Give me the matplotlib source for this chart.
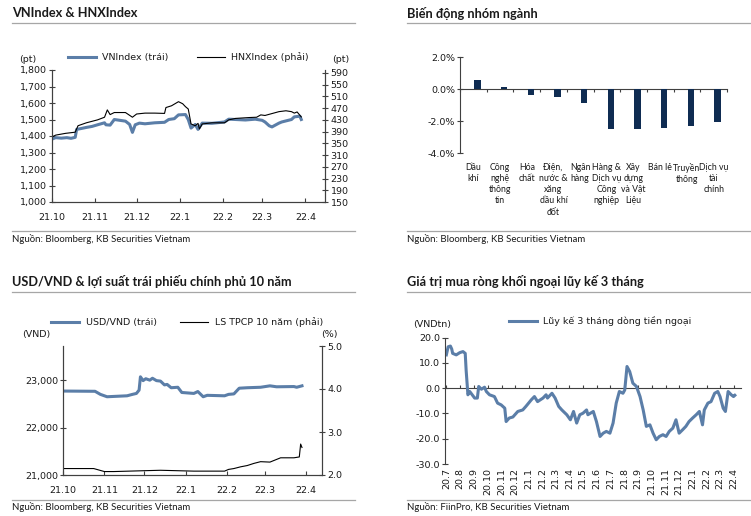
import matplotlib
matplotlib.use('Agg')
import matplotlib.pyplot as plt
import matplotlib.dates as mdates
import pandas as pd
from matplotlib.lines import Line2D

plt.rcParams['font.family'] = ['DejaVu Sans']
plt.rcParams['axes.unicode_minus'] = False

# ---------------- data ----------------
# Panel 1: VNIndex & HNXIndex
vn_dates = ['2021-10-01', '2021-10-04', '2021-10-08', '2021-10-12', '2021-10-15', '2021-10-18',
            '2021-10-19', '2021-10-22', '2021-10-26', '2021-10-30', '2021-11-03', '2021-11-08',
            '2021-11-09', '2021-11-12', '2021-11-15', '2021-11-19', '2021-11-23', '2021-11-26',
            '2021-11-28', '2021-11-30', '2021-12-03', '2021-12-07', '2021-12-14', '2021-12-21',
            '2021-12-24', '2021-12-28', '2021-12-31', '2022-01-05', '2022-01-07', '2022-01-09',
            '2022-01-12', '2022-01-14', '2022-01-17', '2022-01-24', '2022-02-02', '2022-02-05',
            '2022-02-10', '2022-02-17', '2022-02-24', '2022-03-01', '2022-03-03', '2022-03-06',
            '2022-03-08', '2022-03-13', '2022-03-15', '2022-03-22', '2022-03-24', '2022-03-28',
            '2022-03-29']
vn_values = [1380, 1390, 1387, 1390, 1386, 1392, 1440, 1445, 1452, 1458, 1468, 1480,
             1468, 1466, 1500, 1495, 1490, 1470, 1422, 1468, 1478, 1474, 1480, 1483,
             1500, 1505, 1528, 1530, 1500, 1448, 1470, 1440, 1478, 1477, 1485, 1502,
             1500, 1497, 1502, 1495, 1485, 1462, 1455, 1478, 1485, 1500, 1516, 1520,
             1500]
hnx_dates = ['2021-10-01', '2021-10-04', '2021-10-11', '2021-10-18', '2021-10-20', '2021-10-26',
             '2021-11-03', '2021-11-08', '2021-11-10', '2021-11-12', '2021-11-15', '2021-11-23',
             '2021-11-28', '2021-12-01', '2021-12-07', '2021-12-14', '2021-12-21', '2021-12-22',
             '2021-12-26', '2021-12-31', '2022-01-03', '2022-01-05', '2022-01-07', '2022-01-09',
             '2022-01-12', '2022-01-14', '2022-01-15', '2022-01-17', '2022-01-24', '2022-02-02',
             '2022-02-05', '2022-02-10', '2022-02-20', '2022-02-25', '2022-02-28', '2022-03-03',
             '2022-03-13', '2022-03-18', '2022-03-22', '2022-03-24', '2022-03-26', '2022-03-29']
hnx_values = [371, 378, 384, 388, 410, 420, 430, 439, 464, 448, 455, 455,
              439, 450, 453, 453, 452, 472, 478, 492, 485, 475, 467, 416,
              410, 418, 399, 416, 420, 420, 430, 435, 438, 439, 447, 445,
              458, 461, 458, 453, 457, 440]

# Panel 2: sector performance
sectors = ['Dầu\nkhí', 'Công\nnghệ\nthông\ntin', 'Hóa\nchất', 'Điện,\nnước &\nxăng\ndầu khí\nđốt',
           'Ngân\nhàng', 'Hàng &\nDịch vụ\nCông\nnghiệp', 'Xây\ndựng\nvà Vật\nLiệu', 'Bán lẻ',
           'Truyền\nthông', 'Dịch vụ\ntài\nchính']
sector_change = [0.58, 0.14, -0.37, -0.52, -0.90, -2.52, -2.50, -2.44, -2.33, -2.06]

# Panel 3: USD/VND & 10Y government bond yield
fx_dates = ['2021-10-01', '2021-10-25', '2021-10-29', '2021-11-03', '2021-11-18', '2021-11-22',
            '2021-11-25', '2021-11-27', '2021-11-28', '2021-11-30', '2021-12-02', '2021-12-05',
            '2021-12-07', '2021-12-10', '2021-12-13', '2021-12-16', '2021-12-18', '2021-12-21',
            '2021-12-26', '2021-12-29', '2022-01-07', '2022-01-10', '2022-01-14', '2022-01-17',
            '2022-01-30', '2022-02-02', '2022-02-06', '2022-02-10', '2022-02-16', '2022-02-26',
            '2022-03-05', '2022-03-10', '2022-03-23', '2022-03-25', '2022-03-29']
fx_values = [22770, 22765, 22700, 22650, 22670, 22700, 22720, 22790, 23070, 22990, 23030, 23000,
             23040, 22990, 22980, 22900, 22910, 22840, 22850, 22740, 22720, 22760, 22650, 22680,
             22670, 22700, 22710, 22830, 22840, 22850, 22880, 22860, 22865, 22850, 22880]
yld_dates = ['2021-10-01', '2021-10-24', '2021-11-01', '2021-11-08', '2021-12-01', '2021-12-13',
             '2022-01-07', '2022-01-30', '2022-02-02', '2022-02-06', '2022-02-11', '2022-02-16',
             '2022-02-21', '2022-02-26', '2022-03-05', '2022-03-13', '2022-03-23', '2022-03-27',
             '2022-03-28', '2022-03-29']
yld_values = [2.15, 2.15, 2.08, 2.08, 2.10, 2.11, 2.09, 2.09, 2.13, 2.15, 2.19, 2.22,
              2.27, 2.31, 2.30, 2.40, 2.40, 2.42, 2.72, 2.64]

# Panel 4: 3-month cumulative foreign net buying
flow_dates = ['2020-07-01', '2020-07-05', '2020-07-10', '2020-07-13', '2020-07-15', '2020-07-23',
              '2020-07-31', '2020-08-07', '2020-08-12', '2020-08-14', '2020-08-18', '2020-08-22',
              '2020-08-25', '2020-09-02', '2020-09-08', '2020-09-11', '2020-09-17', '2020-09-24',
              '2020-09-28', '2020-10-05', '2020-10-16', '2020-10-23', '2020-10-31', '2020-11-08',
              '2020-11-11', '2020-11-18', '2020-11-26', '2020-12-07', '2020-12-18', '2020-12-25',
              '2021-01-06', '2021-01-13', '2021-01-20', '2021-02-01', '2021-02-08', '2021-02-11',
              '2021-02-21', '2021-02-28', '2021-03-08', '2021-03-15', '2021-03-26', '2021-04-03',
              '2021-04-10', '2021-04-17', '2021-04-24', '2021-05-01', '2021-05-09', '2021-05-12',
              '2021-05-24', '2021-05-31', '2021-06-08', '2021-06-15', '2021-06-22', '2021-06-30',
              '2021-07-07', '2021-07-14', '2021-07-21', '2021-07-29', '2021-08-02', '2021-08-07',
              '2021-08-13', '2021-08-20', '2021-08-28', '2021-09-05', '2021-09-12', '2021-09-19',
              '2021-09-27', '2021-10-04', '2021-10-11', '2021-10-18', '2021-10-26', '2021-11-02',
              '2021-11-09', '2021-11-17', '2021-11-24', '2021-12-01', '2021-12-09', '2021-12-16',
              '2021-12-23', '2021-12-31', '2022-01-08', '2022-01-15', '2022-01-22', '2022-01-26',
              '2022-02-03', '2022-02-10', '2022-02-18', '2022-02-25', '2022-03-02', '2022-03-09',
              '2022-03-14', '2022-03-20', '2022-03-27', '2022-04-01', '2022-04-04']
flow_values = [13.2, 16.4, 16.7, 15.5, 13.8, 13.2, 14.1, 14.5, 13.8, 7.2, -2.6, -1.3,
               -2.0, -3.9, -3.9, 0.7, -0.4, 0.4, -1.3, -2.6, -3.3, -5.9, -6.6, -7.9,
               -13.2, -11.8, -11.4, -9.2, -8.6, -7.2, -4.6, -3.3, -5.3, -3.9, -2.6, -3.9,
               -2.0, -3.9, -7.2, -8.6, -10.5, -12.5, -9.2, -13.8, -10.5, -9.9, -8.6, -10.5,
               -9.2, -13.2, -19.1, -17.8, -17.1, -17.8, -13.8, -5.9, -1.3, -2.0, -0.7, 8.6,
               6.6, 2.0, 0.7, -3.3, -8.6, -15.1, -14.5, -17.8, -20.4, -19.1, -18.4, -19.1,
               -17.1, -15.8, -12.5, -17.8, -16.4, -15.1, -13.2, -11.8, -10.5, -9.2, -14.5, -8.6,
               -5.9, -5.3, -2.0, -1.3, -3.3, -7.9, -9.2, -1.3, -2.6, -3.3, -2.8]

m6_ticks = ['2021-10-01', '2021-11-01', '2021-12-01', '2022-01-01', '2022-02-01', '2022-03-01', '2022-04-01']
m6_labels = ['21.10', '21.11', '21.12', '22.1', '22.2', '22.3', '22.4']
m22_ticks = [f'{y}-{m:02d}-01' for y, m in
             [(2020, 7), (2020, 8), (2020, 9), (2020, 10), (2020, 11), (2020, 12)] +
             [(2021, k) for k in range(1, 13)] + [(2022, k) for k in range(1, 5)]]
m22_labels = ['20.7', '20.8', '20.9', '20.10', '20.11', '20.12', '21.1', '21.2', '21.3', '21.4',
              '21.5', '21.6', '21.7', '21.8', '21.9', '21.10', '21.11', '21.12', '22.1', '22.2',
              '22.3', '22.4']

# ---------------- style ----------------
W, H = 751, 516
TXT = '#1a1a1a'
BLUE = '#5b7ea8'
NAVY = '#0f2c52'
AXC = '#404040'
RULE = '#a6a6a6'
TFONT = ['Lato', 'DejaVu Sans']
TICK = 6.8

fig = plt.figure(figsize=(W / 100, H / 100), dpi=100)


def rect(x0, y0, x1, y1):
    return [x0 / W, 1 - y1 / H, (x1 - x0) / W, (y1 - y0) / H]


def fx(x):
    return x / W


def fy(y):
    return 1 - y / H


def rule(x0, x1, y):
    fig.add_artist(Line2D([fx(x0), fx(x1)], [fy(y), fy(y)], color=RULE, lw=0.9,
                          transform=fig.transFigure))


def title(x, y, s):
    fig.text(fx(x), fy(y), s, family=TFONT, fontweight='bold', fontsize=9.2, color=TXT,
             ha='left', va='center')


def footer(x, y, s):
    fig.text(fx(x), fy(y), s, family=TFONT, fontsize=6.9, color=TXT, ha='left', va='center')


def unit(x, y, s):
    fig.text(fx(x), fy(y), s, fontsize=TICK, color=TXT, ha='center', va='center')


def style_axis(ax):
    for s in ax.spines.values():
        s.set_color(AXC)
        s.set_linewidth(0.8)
    ax.tick_params(colors=AXC, labelcolor=TXT, labelsize=TICK, width=0.8)


def to_dt(lst):
    return pd.to_datetime(lst)


# ---------------- frame texts ----------------
title(12, 13, 'VNIndex & HNXIndex')
title(407, 13, 'Biến động nhóm ngành')
title(12, 281, 'USD/VND & lợi suất trái phiếu chính phủ 10 năm')
title(407, 281, 'Giá trị mua ròng khối ngoại lũy kế 3 tháng')
rule(12, 355, 23)
rule(407, 750, 23)
rule(12, 355, 291.5)
rule(407, 750, 291.5)
rule(12, 355, 231)
rule(407, 750, 231)
rule(12, 355, 499.5)
rule(407, 750, 500)
footer(12, 239, 'Nguồn: Bloomberg, KB Securities Vietnam')
footer(407, 239, 'Nguồn: Bloomberg, KB Securities Vietnam')
footer(12, 507, 'Nguồn: Bloomberg, KB Securities Vietnam')
footer(407, 507, 'Nguồn: FiinPro, KB Securities Vietnam')

# ---------------- panel 1 ----------------
ax1 = fig.add_axes(rect(51.5, 70, 325, 202))
ax1r = ax1.twinx()
l1, = ax1.plot(to_dt(vn_dates), vn_values, color=BLUE, lw=2.2, label='VNIndex (trái)')
l2, = ax1r.plot(to_dt(hnx_dates), hnx_values, color='black', lw=0.8, label='HNXIndex (phải)')
ax1.set_xlim(pd.Timestamp('2021-10-01'), pd.Timestamp('2022-04-15'))
ax1.set_ylim(1000, 1800)
ax1r.set_ylim(150, 600)
ax1.set_yticks(range(1000, 1801, 100))
ax1.set_yticklabels([f'{v:,}' for v in range(1000, 1801, 100)])
ax1r.set_yticks(range(150, 591, 40))
ax1.set_xticks(to_dt(m6_ticks))
ax1.set_xticklabels(m6_labels)
for a in (ax1, ax1r):
    style_axis(a)
    a.spines['top'].set_visible(False)
ax1.tick_params(axis='y', direction='inout', length=4, pad=1.5)
ax1r.tick_params(axis='y', direction='inout', length=4, pad=2)
ax1.tick_params(axis='x', direction='in', length=3, pad=8)
ax1.legend(handles=[l1, l2], ncol=2, frameon=False, fontsize=TICK, loc='center',
           bbox_to_anchor=(fx(188), fy(57)), bbox_transform=fig.transFigure,
           handlelength=3.0, handletextpad=0.6, columnspacing=3.0, borderpad=0,
           labelcolor=TXT)
unit(27.5, 60, '(pt)')
unit(341, 60, '(pt)')

# ---------------- panel 2 ----------------
ax2 = fig.add_axes(rect(460, 57, 727, 153))
pos = [i + 0.5 for i in range(len(sectors))]
ax2.bar([p + 0.15 for p in pos], sector_change, width=0.24, color=NAVY)
ax2.set_xlim(0, len(sectors))
ax2.set_ylim(-4, 2)
ax2.set_yticks([-4, -2, 0, 2])
ax2.set_yticklabels([f'{v:.1f}%' for v in [-4, -2, 0, 2]])
style_axis(ax2)
for s in ('top', 'right', 'bottom'):
    ax2.spines[s].set_visible(False)
ax2.tick_params(axis='y', direction='inout', length=4, pad=1.5)
ax2.set_xticks(pos)
ax2.set_xticklabels(sectors, fontsize=6.3, linespacing=1.32, family=TFONT)
ax2.tick_params(axis='x', length=0, pad=7)
sec2 = ax2.secondary_xaxis(4 / 6)
sec2.set_xticks(range(0, len(sectors) + 1))
sec2.tick_params(axis='x', direction='in', length=2.5, labeltop=False, labelbottom=False,
                 colors=AXC, width=0.8)
for s in sec2.spines.values():
    s.set_color(AXC)
    s.set_linewidth(0.8)

# ---------------- panel 3 ----------------
ax3 = fig.add_axes(rect(63, 346, 322, 475))
ax3r = ax3.twinx()
l3, = ax3.plot(to_dt(fx_dates), fx_values, color=BLUE, lw=2.2, label='USD/VND (trái)')
l4, = ax3r.plot(to_dt(yld_dates), yld_values, color='black', lw=0.8, label='LS TPCP 10 năm (phải)')
ax3.set_xlim(pd.Timestamp('2021-10-01'), pd.Timestamp('2022-04-13'))
ax3.set_ylim(21000, 23720)
ax3r.set_ylim(2.0, 5.0)
ax3.set_yticks([21000, 22000, 23000])
ax3.set_yticklabels([f'{v:,}' for v in [21000, 22000, 23000]])
ax3r.set_yticks([2, 3, 4, 5])
ax3r.set_yticklabels([f'{v:.1f}' for v in [2, 3, 4, 5]])
ax3.set_xticks(to_dt(m6_ticks))
ax3.set_xticklabels(m6_labels)
for a in (ax3, ax3r):
    style_axis(a)
    a.spines['top'].set_visible(False)
ax3.tick_params(axis='y', direction='inout', length=4, pad=1.5)
ax3r.tick_params(axis='y', direction='inout', length=4, pad=2)
ax3.tick_params(axis='x', direction='in', length=3, pad=8)
ax3.legend(handles=[l3, l4], ncol=2, frameon=False, fontsize=TICK, loc='center',
           bbox_to_anchor=(fx(187), fy(322)), bbox_transform=fig.transFigure,
           handlelength=3.0, handletextpad=0.7, columnspacing=2.4, borderpad=0,
           labelcolor=TXT)
unit(36.5, 334, '(VND)')
unit(329, 334, '(%)')

# ---------------- panel 4 ----------------
ax4 = fig.add_axes(rect(445, 337.7, 740.7, 464))
l5, = ax4.plot(to_dt(flow_dates), flow_values, color=BLUE, lw=2.2,
               label='Lũy kế 3 tháng dòng tiền ngoại')
ax4.set_xlim(pd.Timestamp('2020-06-28'), pd.Timestamp('2022-04-17'))
ax4.set_ylim(-30, 20)
ax4.set_yticks([-30, -20, -10, 0, 10, 20])
ax4.set_yticklabels([f'{v:.1f}' for v in [-30, -20, -10, 0, 10, 20]])
style_axis(ax4)
for s in ('top', 'right', 'bottom'):
    ax4.spines[s].set_visible(False)
ax4.tick_params(axis='y', direction='inout', length=4, pad=1.5)
ax4.set_xticks(to_dt(m22_ticks))
ax4.set_xticklabels(m22_labels, rotation=90, va='top')
ax4.tick_params(axis='x', length=0, pad=3)
sec4 = ax4.secondary_xaxis(30 / 50)
sec4.set_xticks(mdates.date2num(to_dt(m22_ticks)))
sec4.tick_params(axis='x', direction='out', length=2.5, labeltop=False, labelbottom=False,
                 colors=AXC, width=0.8)
for s in sec4.spines.values():
    s.set_color(AXC)
    s.set_linewidth(0.8)
ax4.legend(handles=[l5], frameon=False, fontsize=TICK, loc='center',
           bbox_to_anchor=(fx(600), fy(321)), bbox_transform=fig.transFigure,
           handlelength=3.0, handletextpad=0.6, borderpad=0, labelcolor=TXT)
unit(432, 325, '(VNDtn)')

fig.savefig('out.png', dpi=100)
